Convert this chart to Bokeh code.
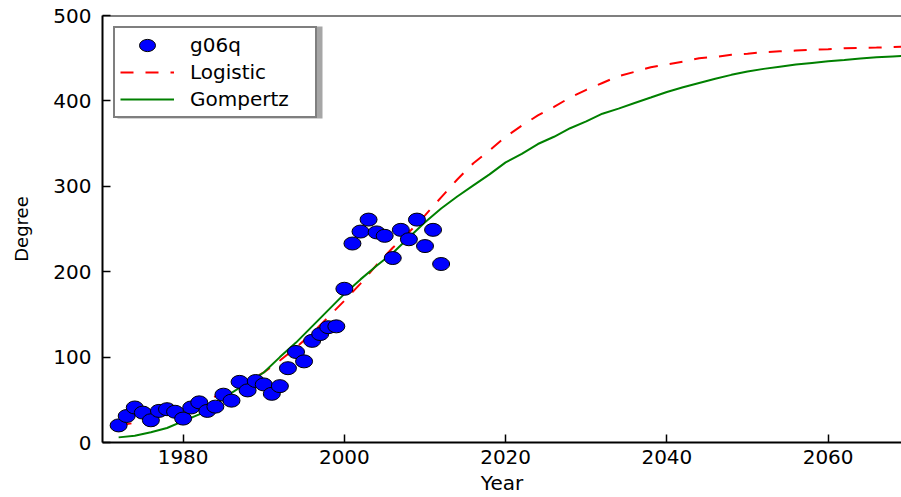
from bokeh.plotting import figure
from bokeh.models import (ColumnDataSource, Legend, LegendItem, FixedTicker,
                          Range1d, BoxAnnotation, Span)
from bokeh.embed import file_html
from bokeh.resources import INLINE

# ---- data ----
years = list(range(1972, 2013))
degree = [20, 31, 41, 35, 26, 37, 39, 36, 28, 41, 47, 37, 42, 56, 49, 71, 61,
          72, 68, 57, 66, 87, 106, 95, 119, 127, 135, 136, 180, 233, 247, 261,
          246, 242, 216, 249, 238, 261, 230, 249, 209]

fit_years = [1972, 1974, 1976, 1978, 1980, 1982, 1984, 1986, 1988, 1990, 1992,
             1994, 1996, 1998, 2000, 2002, 2004, 2006, 2008, 2010, 2012, 2014,
             2016, 2018, 2020, 2022, 2024, 2026, 2028, 2030, 2032, 2034, 2036,
             2038, 2040, 2042, 2044, 2046, 2048, 2050, 2052, 2054, 2056, 2058,
             2060, 2062, 2064, 2066, 2068, 2070]
logistic = [20, 23, 28, 33, 38, 46, 54, 62, 71, 82, 96, 111, 128, 147, 166,
            186, 208, 228, 246, 266, 287, 308, 327, 342, 358, 371, 383, 393,
            404, 413, 421, 429, 434, 439.5, 442.7, 446, 450, 451.5, 454, 455.3,
            457, 458, 459, 460, 460.5, 461.6, 462, 462.4, 463, 463.6]
gompertz = [6, 8, 12, 17, 25, 33, 45, 58, 70, 82, 100, 117, 136, 155, 174,
            191, 207, 222, 240, 258, 274, 288, 301, 314, 328, 338, 349.5, 358,
            368, 376, 385, 391, 397.6, 404, 410.5, 416, 421, 426, 430.5, 434.5,
            437.5, 440, 442.5, 444.5, 446.5, 448, 449.7, 451, 452, 453]

x_ticks = [1980, 2000, 2020, 2040, 2060]
y_ticks = [0, 100, 200, 300, 400, 500]

FONT = "DejaVu Sans"

pts = ColumnDataSource(dict(year=years, degree=degree))
fits = ColumnDataSource(dict(year=fit_years, logistic=logistic, gompertz=gompertz))

p = figure(width=901, height=497, output_backend="svg", toolbar_location=None,
           x_range=Range1d(1970, 2069.1), y_range=Range1d(0, 500),
           min_border_left=102, min_border_top=15, min_border_right=0,
           min_border_bottom=52)
p.outline_line_color = None
p.grid.visible = False
p.background_fill_color = "white"
p.border_fill_color = "white"

r_log = p.line("year", "logistic", source=fits, line_color="#ff0000",
               line_width=2, line_dash="13 12")
r_gom = p.line("year", "gompertz", source=fits, line_color="#008000",
               line_width=2)
r_pts = p.ellipse("year", "degree", source=pts, width=17, height=13,
                  width_units="screen", height_units="screen",
                  fill_color="#0000ff", line_color="black", line_width=1)

for ax in (p.xaxis[0], p.yaxis[0]):
    ax.axis_line_width = 2
    ax.major_tick_in = 8
    ax.major_tick_out = 0
    ax.major_tick_line_width = 1.5
    ax.minor_tick_line_color = None
    ax.major_label_text_font = FONT
    ax.major_label_text_font_size = "20px"
    ax.major_label_text_color = "black"
    ax.axis_label_text_font = FONT
    ax.axis_label_text_font_style = "normal"
    ax.axis_label_text_color = "black"

p.xaxis[0].ticker = FixedTicker(ticks=x_ticks)
p.yaxis[0].ticker = FixedTicker(ticks=y_ticks)
p.xaxis[0].axis_label = "Year"
p.xaxis[0].axis_label_text_font_size = "20px"
p.xaxis[0].major_label_standoff = 7
p.xaxis[0].axis_label_standoff = 4
p.yaxis[0].axis_label = "Degree"
p.yaxis[0].axis_label_text_font_size = "18px"
p.yaxis[0].major_label_standoff = 11
p.yaxis[0].axis_label_standoff = 18

top_line = Span(location=500, dimension="width", line_color="black",
                line_width=2)
p.add_layout(top_line)

# drop shadow behind the legend box (screen units, relative to the frame)
shadow = BoxAnnotation(left=15, right=220, top=416, bottom=324,
                       left_units="screen", right_units="screen",
                       top_units="screen", bottom_units="screen",
                       fill_color="#888888", fill_alpha=0.75, line_color=None)
p.add_layout(shadow)

legend = Legend(items=[LegendItem(label="g06q", renderers=[r_pts]),
                       LegendItem(label="Logistic", renderers=[r_log]),
                       LegendItem(label="Gompertz", renderers=[r_gom])],
                location=(11, 324), margin=0, padding=5, spacing=3,
                glyph_width=54, glyph_height=20, label_height=20,
                label_width=120, label_standoff=16, label_text_font=FONT,
                label_text_font_size="20px", label_text_color="black",
                border_line_color="black", border_line_width=2,
                background_fill_alpha=1.0)
p.add_layout(legend)

open("out.html", "w").write(file_html(p, INLINE))
